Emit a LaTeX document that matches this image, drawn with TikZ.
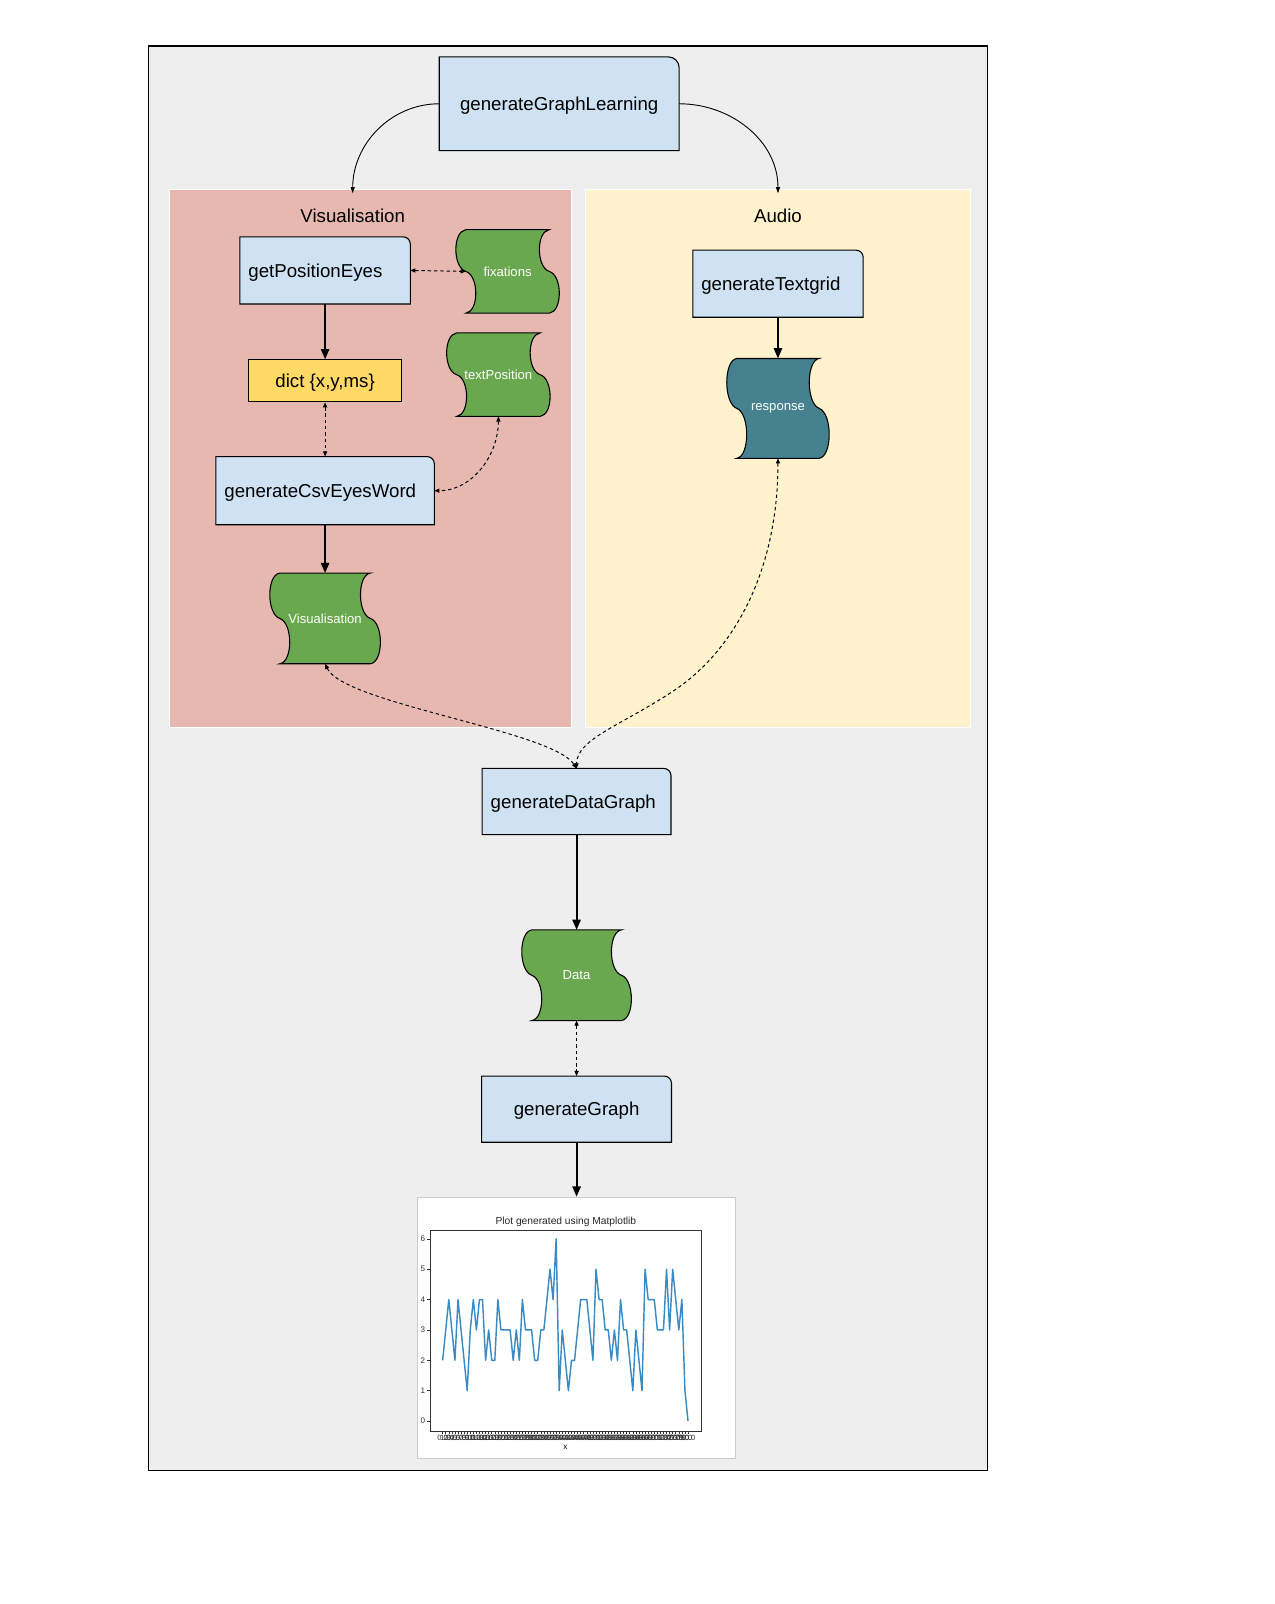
\documentclass[tikz,border=0pt]{standalone}
\usepackage{fontspec}
\setmainfont{Liberation Sans}
\usetikzlibrary{arrows.meta,backgrounds,calc}
\definecolor{boxblue}{HTML}{CFE2F3}
\definecolor{dictyellow}{HTML}{FFD966}
\definecolor{visred}{HTML}{E6B8AF}
\definecolor{audioyellow}{HTML}{FFF2CC}
\definecolor{framegray}{HTML}{EEEEEE}
\definecolor{docgreen}{HTML}{6AA84F}
\definecolor{docteal}{HTML}{45818E}
\definecolor{plotblue}{HTML}{3A8AC4}

\begin{document}
\begin{tikzpicture}[x=0.02cm,y=-0.02cm,
	fn/.style={inner xsep=0.16cm,inner ysep=0pt,text depth=0pt,align=left,font=\fontsize{10.4}{12}\selectfont},
	dictbox/.style={draw,line width=0.6pt,fill=dictyellow,inner sep=0pt,text depth=0pt,minimum width=3cm,minimum height=0.82cm,font=\fontsize{10.4}{12}\selectfont},
	doc/.style={inner sep=0pt,text=white,font=\fontsize{7.3}{8}\selectfont},
	panel/.style={draw=white,line width=0.6pt,inner sep=0pt,minimum height=10.54cm},
	paneltitle/.style={font=\fontsize{10.4}{12}\selectfont},
	flow/.style={line width=1.1pt,arrows={-Triangle[length=2mm,width=1.6mm]}},
	link/.style={line width=0.55pt,dash pattern=on 1.9pt off 1.6pt,arrows={Triangle[length=1mm,width=0.8mm]-Triangle[length=1mm,width=0.8mm]}},
	call/.style={line width=0.5pt,arrows={-Triangle[length=1.2mm,width=0.8mm]}},
	axistick/.style={line width=0.3pt,black!80}]
	\useasboundingbox (0,0) rectangle (1247,1569);

	\node[fn,align=center,text width=4.36cm,minimum height=1.82cm] (gGL) at (547,101.5) {generateGraphLearning};
	\node[paneltitle] (visTitle) at (345,211) {Visualisation};
	\node[paneltitle] (audioTitle) at (761,211) {Audio};
	\node[fn,text width=3cm,minimum height=1.3cm] (gPE) at (318,264.5) {getPositionEyes};
	\node[dictbox] (dict) [below of=gPE,node distance=2.16cm] {dict \{x,y,ms\}};
	\node[fn,text width=3.94cm,minimum height=1.32cm] (gCEW) [below of=dict,node distance=2.15cm] {generateCsvEyesWord};
	\node[doc,minimum width=1.76cm,minimum height=1.76cm] (visDoc) [below of=gCEW,node distance=2.5cm] {Visualisation};
	\node[doc,minimum width=1.62cm,minimum height=1.62cm] (fix) at (496.5,265.5) {fixations};
	\node[doc,minimum width=1.62cm,minimum height=1.62cm] (tpos) at (487.5,366.5) {textPosition};
	\node[fn,text width=3cm,minimum height=1.3cm] (gTG) at (761,277.5) {generateTextgrid};
	\node[doc,minimum width=1.6cm,minimum height=1.94cm] (resp) [below of=gTG,node distance=2.44cm] {response};
	\node[fn,text width=3.36cm,minimum height=1.28cm] (gDG) at (564,784) {generateDataGraph};
	\node[doc,minimum width=1.74cm,minimum height=1.76cm] (data) [below of=gDG,node distance=3.4cm] {Data};
	\node[fn,align=center,text width=3.38cm,minimum height=1.28cm] (gG) [below of=data,node distance=2.62cm] {generateGraph};
	\node[draw=black!20,fill=white,minimum width=6.22cm,minimum height=5.12cm] (chart) [below of=gG,node distance=4.28cm] {};

	\begin{scope}[on background layer]
		\fill[white] (0,0) rectangle (1247,1569);
		\draw[fill=framegray,line width=0.6pt] (145,45) rectangle (966,1438);
		\node[panel,fill=visred,minimum width=7.86cm] (visPanel) at (362.5,448.5) {};
		\node[panel,fill=audioyellow,minimum width=7.52cm] (audioPanel) at (761,448.5) {};
		\foreach \n/\r in {gGL/6,gPE/4,gCEW/4,gTG/4,gDG/4,gG/4}
			\draw[fill=boxblue,line width=0.6pt] (\n.south west) -- (\n.north west) -- ([xshift=-\r pt]\n.north east) arc[start angle=90,end angle=0,radius=\r pt] -- (\n.south east) -- cycle;
		\foreach \n/\c in {fix/docgreen,tpos/docgreen,visDoc/docgreen,resp/docteal,data/docgreen}
			\draw[fill=\c,line width=0.6pt] (\n.north west)
				.. controls ($(\n.north west)!0.02!(\n.south west)+(-13,0)$) and ($(\n.north west)!0.45!(\n.south west)+(-13,0)$) .. (\n.west)
				.. controls ($(\n.north west)!0.55!(\n.south west)+(13,0)$) and ($(\n.north west)!0.98!(\n.south west)+(13,0)$) .. (\n.south west)
				-- (\n.south east)
				.. controls ($(\n.north east)!0.98!(\n.south east)+(13,0)$) and ($(\n.north east)!0.55!(\n.south east)+(13,0)$) .. (\n.east)
				.. controls ($(\n.north east)!0.45!(\n.south east)+(-13,0)$) and ($(\n.north east)!0.02!(\n.south east)+(-13,0)$) .. (\n.north east)
				-- cycle;
	\end{scope}

	\draw[line width=0.4pt,black!80] (420.8,1203.2) rectangle (686.3,1399.8);
	\node[font=\fontsize{5.7}{6}\selectfont,black!85] (chartTitle) at (553.5,1195) {Plot generated using Matplotlib};
	\foreach \v in {0,...,6}
		\draw[axistick] (420.8,1390-29.7*\v) -- ++(-3,0) node[left,inner sep=1pt,font=\fontsize{4.5}{5}\selectfont] {\v};
	\foreach \i in {0,...,80}
		\draw[axistick] (433+3*\i,1399.8) -- ++(0,2.5) node[below,inner sep=1pt,font=\fontsize{4.2}{4}\selectfont] {\i.0};
	\node[font=\fontsize{4.5}{5}\selectfont] (xlabel) at (553,1416) {x};
	\draw[plotblue,line width=0.8pt,line join=round] (433,1390-29.7*2)
		\foreach \v [count=\i] in {3,4,3,2,4,3,2,1,3,4,3,4,4,2,3,2,2,4,3,3,3,3,2,3,2,4,3,3,3,2,2,3,3,4,5,4,6,1,3,2,1,2,2,3,4,4,4,3,2,5,4,4,3,3,2,3,2,4,3,3,2,1,3,2,1,5,4,4,4,3,3,3,5,3,5,4,3,4,1,0} {-- (433+3*\i,1390-29.7*\v)};

	\coordinate (visIn) at (345,189);
	\coordinate (audioIn) at (761,189);
	\coordinate (bendR) at (660,675);
	\draw[call] (gGL.west) to[out=180,in=90] (visIn);
	\draw[call] (gGL.east) to[out=0,in=90] (audioIn);
	\draw[link] (gPE.east) -- (fix.west);
	\draw[flow] (gPE.south) -- (dict.north);
	\draw[link] (dict.south) -- (gCEW.north);
	\draw[link] (tpos.south) to[out=-90,in=0] (gCEW.east);
	\draw[flow] (gCEW.south) -- (visDoc.north);
	\draw[flow] (gTG.south) -- (resp.north);
	\draw[link] (resp.south) .. controls +(0,110) and +(58,-39) .. (bendR) .. controls +(-50,33.6) and +(0,-29) .. (gDG.north);
	\draw[link] (visDoc.south) .. controls +(18,39) and +(-24,-37) .. (gDG.north);
	\draw[flow] (gDG.south) -- (data.north);
	\draw[link] (data.south) -- (gG.north);
	\draw[flow] (gG.south) -- (chart.north);
\end{tikzpicture}
\end{document}
